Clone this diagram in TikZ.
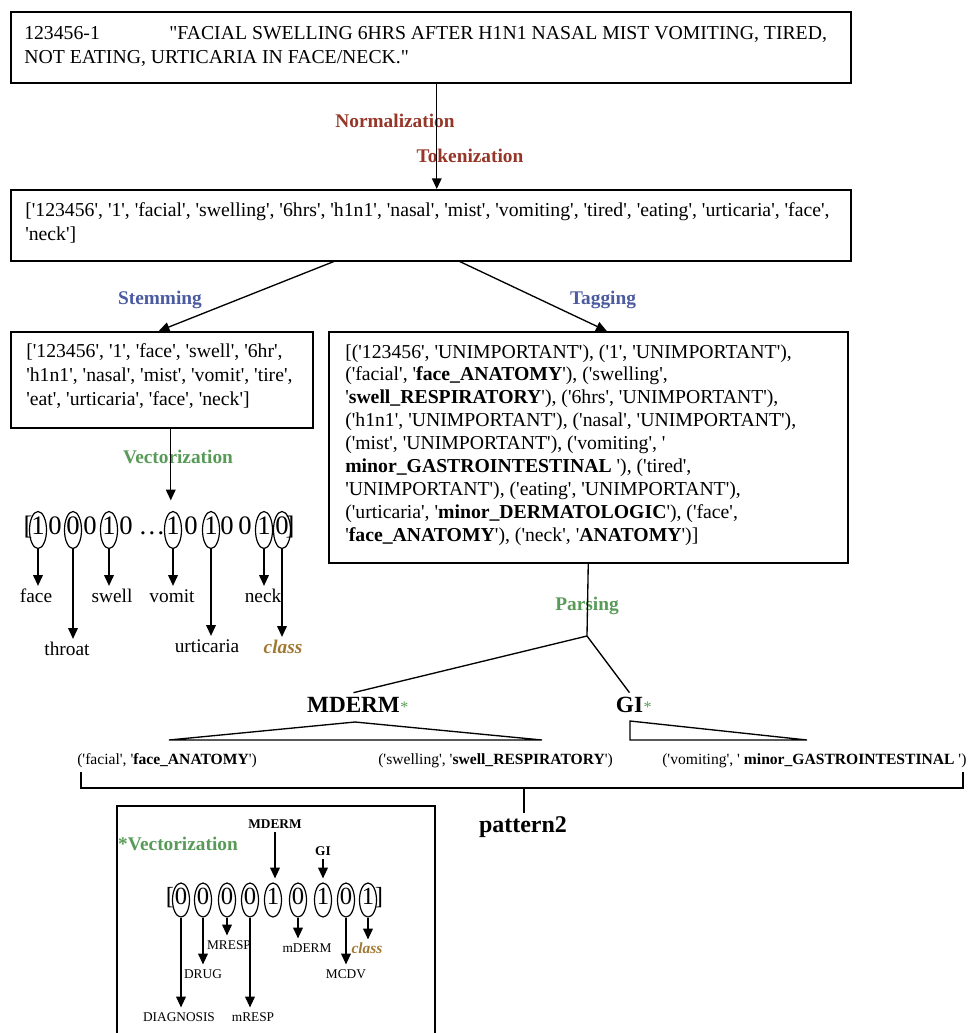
\documentclass[tikz,border=0pt]{standalone}
\usepackage{fontspec}
\setmainfont{Liberation Serif}[Ligatures=TeXOff]
\usetikzlibrary{arrows.meta,shapes.geometric,calc}
\definecolor{cred}{RGB}{150,54,40}
\definecolor{cblue}{RGB}{76,90,160}
\definecolor{cgreen}{RGB}{88,155,88}
\definecolor{cbrown}{RGB}{160,120,50}
\tikzset{
 box/.style={draw, line width=1.15pt, anchor=north west, inner sep=0pt},
 txt/.style={anchor=base west, inner sep=0pt, font=\fontsize{14.8}{18}\selectfont},
 lab/.style={anchor=base, inner sep=0pt, font=\fontsize{14.5}{17}\selectfont\bfseries},
 conn/.style={line width=1pt},
 arr/.style={line width=1pt, -{Triangle[length=8pt,width=7.2pt]}},
 ell/.style={draw, ellipse, line width=0.9pt, inner xsep=-1.5pt, inner ysep=0pt, minimum width=12.75pt, minimum height=27.75pt, text height=0.7em, text depth=0pt, font=\fontsize{20}{20}\selectfont},
 dig/.style={inner sep=0pt, text height=0.7em, text depth=0pt, font=\fontsize{20}{20}\selectfont},
 vl/.style={anchor=base, font=\fontsize{14.5}{17}\selectfont, text height=0.7em, text depth=0pt, inner xsep=0pt, inner ysep=4.9pt},
 clsbig/.style={vl, font=\fontsize{14.5}{17}\selectfont\bfseries\itshape, text=cbrown},
 bell/.style={draw, ellipse, line width=0.9pt, inner xsep=-0.5pt, inner ysep=0pt, minimum width=12.75pt, minimum height=25.5pt, text height=0.7em, text depth=0pt, font=\fontsize{18.5}{18.5}\selectfont},
 bdig/.style={inner sep=0pt, text height=0.7em, text depth=0pt, font=\fontsize{18.5}{18.5}\selectfont},
 bl/.style={anchor=base, font=\fontsize{10}{12}\selectfont, text height=0.7em, text depth=0pt, inner xsep=0pt, inner ysep=3pt},
 bltop/.style={anchor=base, font=\fontsize{10}{12}\selectfont\bfseries, text height=0.7em, text depth=0pt, inner xsep=0pt, inner ysep=3pt},
 clssmall/.style={bl, font=\fontsize{11.6}{13}\selectfont\bfseries\itshape, text=cbrown},
 big/.style={anchor=base, font=\fontsize{17.4}{20}\selectfont\bfseries, text height=0.68em, text depth=0pt, inner xsep=0pt, inner ysep=7.5pt},
 gstar/.style={anchor=base west, inner sep=0pt, text=cgreen, font=\fontsize{12}{12}\selectfont},
 tup/.style={anchor=base west, inner sep=0pt, font=\fontsize{11.7}{14}\selectfont},
}
\begin{document}
\begin{tikzpicture}[x=0.75pt,y=-0.75pt]
\useasboundingbox (0,0) rectangle (969,1033);
% boxes
\node[box, minimum width=630pt, minimum height=53.25pt] (b1) at (10,11) {};
\node[box, minimum width=630pt, minimum height=53.25pt] (b2) at (10,189) {};
\node[box, minimum width=226.5pt, minimum height=72pt] (sb) at (10,331) {};
\node[box, minimum width=389.25pt, minimum height=173.25pt] (tb) at (328,331) {};
% box 1 text
\node[txt] (t1a) at (24,39) {123456-1};
\node[txt] (t1b) at (169,39) {"FACIAL SWELLING 6HRS AFTER H1N1 NASAL MIST VOMITING, TIRED,};
\node[txt] (t1c) at (24,63) {NOT EATING, URTICARIA IN FACE/NECK."};
% box 2 text
\node[txt] (t2a) at (25,216) {['123456', '1', 'facial', 'swelling', '6hrs', 'h1n1', 'nasal', 'mist', 'vomiting', 'tired', 'eating', 'urticaria', 'face',};
\node[txt] (t2b) at (25,240) {'neck']};
% stem box text
\node[txt] (s1) at (26,357) {['123456', '1', 'face', 'swell', '6hr',};
\node[txt] (s2) at (26,381) {'h1n1', 'nasal', 'mist', 'vomit', 'tire',};
\node[txt] (s3) at (26,405) {'eat', 'urticaria', 'face', 'neck']};
% tag box text
\node[txt] (g1) at (345,358) {[('123456', 'UNIMPORTANT'), ('1', 'UNIMPORTANT'),};
\node[txt] (g2) at (345,380.9) {('facial', '\textbf{face\_ANATOMY}'), ('swelling',};
\node[txt] (g3) at (345,403.8) {'\textbf{swell\_RESPIRATORY}'), ('6hrs', 'UNIMPORTANT'),};
\node[txt] (g4) at (345,426.7) {('h1n1', 'UNIMPORTANT'), ('nasal', 'UNIMPORTANT'),};
\node[txt] (g5) at (345,449.6) {('mist', 'UNIMPORTANT'), ('vomiting', '};
\node[txt] (g6) at (345,472.5) {\textbf{minor\_GASTROINTESTINAL} '), ('tired',};
\node[txt] (g7) at (345,495.4) {'UNIMPORTANT'), ('eating', 'UNIMPORTANT'),};
\node[txt] (g8) at (345,518.3) {('urticaria', '\textbf{minor\_DERMATOLOGIC}'), ('face',};
\node[txt] (g9) at (345,541.2) {'\textbf{face\_ANATOMY}'), ('neck', '\textbf{ANATOMY}')]};
% process labels
\node[lab, text=cred] (norm) at (395,127) {Normalization};
\node[lab, text=cred] (tok) at (470,162) {Tokenization};
\node[lab, text=cblue] (stem) at (160,304) {Stemming};
\node[lab, text=cblue] (tag) at (603,304) {Tagging};
\node[lab, text=cgreen] (vec) at (178,463) {Vectorization};
\node[lab, text=cgreen] (pars) at (587,610) {Parsing};
% connectors
\draw[arr] ([xshift=4.5pt]b1.south) -- ([xshift=4.5pt]b2.north);
\draw[arr] ([xshift=-72.75pt]b2.south) -- ([xshift=-2.25pt]sb.north);
\draw[arr] ([xshift=21.75pt]b2.south) -- ([xshift=13.9pt]tb.north);
% main vector row
\node[dig] (lb1) at (28,530) {[};
\node[ell] (v1) at (38,530) {1};
\node[dig] (v2) at (55,530) {0};
\node[ell] (v3) at (73,530) {0};
\node[dig] (v4) at (90,530) {0};
\node[ell] (v5) at (109,530) {1};
\node[dig] (v6) at (126,530) {0};
\node[dig] (v7) at (152,530) {…};
\node[ell] (v9) at (173,530) {1};
\node[dig] (v10) at (191,530) {0};
\node[ell] (v11) at (211,530) {1};
\node[dig] (v12) at (227,530) {0};
\node[dig] (v13) at (245,530) {0};
\node[ell] (v14) at (264,530) {1};
\node[ell] (v15) at (282,530) {0};
\node[dig] (rb1) at (290,530) {]};
\coordinate (vs) at ($(sb.south)+(9,0)$);
\draw[arr, shorten >=7.9pt] (vs) -- (vs |- v9.north);
% main labels
\node[vl] (face) at (36,602) {face};
\node[vl] (throat) at (67,655) {throat};
\node[vl] (swell) at (112,602) {swell};
\node[vl] (vomit) at (172,602) {vomit};
\node[vl] (urt) at (207,652) {urticaria};
\node[vl] (neck) at (263,602) {neck};
\node[clsbig] (cls1) at (283,653) {class};
\draw[arr] (v1.south) -- (v1.south |- face.north);
\draw[arr] (v3.south) -- (v3.south |- throat.north);
\draw[arr] (v5.south) -- (v5.south |- swell.north);
\draw[arr] (v9.south) -- (v9.south |- vomit.north);
\draw[arr] (v11.south) -- (v11.south |- urt.north);
\draw[arr] (v14.south) -- (v14.south |- neck.north);
\draw[arr] (v15.south) -- (v15.south |- cls1.north);
% parsing tree
\coordinate (pj) at (587,636);
\node[big] (MD) at (353.5,712) {MDERM};
\node[gstar] (MDs) at (MD.base east) {*};
\node[big] (GI) at (629.5,712) {GI};
\node[gstar] (GIs) at (GI.base east) {*};
\draw[conn] (tb.south) -- (pj);
\draw[conn] (pj) -- (MD.north);
\draw[conn] (pj) -- (GI.north);
\draw[conn] (355,722) -- (169,740) -- (542,740) -- cycle;
\draw[conn] (630,721) -- (630,740) -- (807,740) -- cycle;
\node[tup] (tp1) at (77,764) {('facial', '\textbf{face\_ANATOMY}')};
\node[tup] (tp2) at (378,764) {('swelling', '\textbf{swell\_RESPIRATORY}')};
\node[tup] (tp3) at (662,764) {('vomiting', ' \textbf{minor\_GASTROINTESTINAL} ')};
\draw[conn] (81,772) -- (81,788) -- (963,788) -- (963,772);
\coordinate (bm) at (524,788);
\node[anchor=base, font=\fontsize{18}{20}\selectfont\bfseries, text height=0.7em, text depth=0pt, inner xsep=0pt, inner ysep=6.9pt] (p2) at (523,832) {pattern2};
\draw[conn] (bm) -- (bm |- p2.north);
% bottom box
\draw[line width=1.15pt] (117,1045) -- (117,806) -- (435,806) -- (435,1045);
\node[lab, text=cgreen] (vec2) at (178,850) {*Vectorization};
\node[bdig] (lb2) at (170,900) {[};
\node[bell] (w1) at (181,900) {0};
\node[bell] (w2) at (203,900) {0};
\node[bell] (w3) at (227,900) {0};
\node[bell] (w4) at (250,900) {0};
\node[bell] (w5) at (273,900) {1};
\node[bell] (w6) at (298,900) {0};
\node[bell] (w7) at (323,900) {1};
\node[bell] (w8) at (346,900) {0};
\node[bell] (w9) at (368,900) {1};
\node[bdig] (rb2) at (379,900) {]};
\node[bltop] (md2) at (275,828) {MDERM};
\node[bltop] (gi2) at (323,855) {GI};
\draw[arr, shorten >=3pt] (md2.south) -- (md2.south |- w5.north);
\draw[arr, shorten >=3pt] (gi2.south) -- (gi2.south |- w7.north);
\node[bl] (diag) at (179,1021) {DIAGNOSIS};
\node[bl] (drug) at (203,978) {DRUG};
\node[bl] (mresp) at (229,949) {MRESP};
\node[bl] (mresp2) at (253,1021) {mRESP};
\node[bl] (mderm) at (307,952) {mDERM};
\node[bl] (mcdv) at (346,978) {MCDV};
\node[clssmall] (cls2) at (367,953) {class};
\draw[arr] (w1.south) -- (w1.south |- diag.north);
\draw[arr] (w2.south) -- (w2.south |- drug.north);
\draw[arr] (w3.south) -- (w3.south |- mresp.north);
\draw[arr] (w4.south) -- (w4.south |- mresp2.north);
\draw[arr] (w6.south) -- (w6.south |- mderm.north);
\draw[arr] (w8.south) -- (w8.south |- mcdv.north);
\draw[arr] (w9.south) -- (w9.south |- cls2.north);
\end{tikzpicture}
\end{document}
